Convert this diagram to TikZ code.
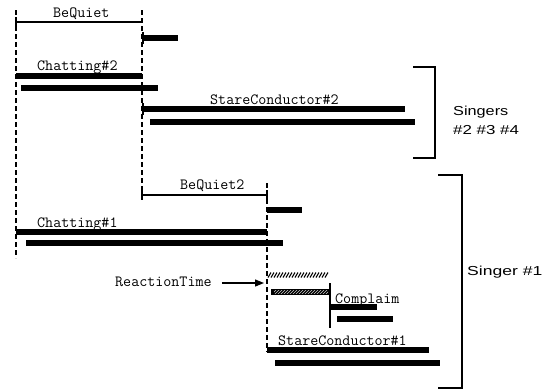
\documentclass[tikz,border=0pt]{standalone}
\usepackage{fontspec}
\usepackage{graphicx}
\newfontfamily\sansf{Liberation Sans}
\usetikzlibrary{patterns,arrows.meta}
\begin{document}
\begin{tikzpicture}[x=1pt,y=-1pt,
  thinbar/.style={line width=2.8pt},
  thickbar/.style={line width=5.5pt},
  guide/.style={line width=1.2pt, dash pattern=on 5pt off 3pt},
  tick/.style={line width=1.4pt},
  lbl/.style={font=\ttfamily\fontsize{15.6}{16}\selectfont, inner sep=0pt, anchor=base west},
  grp/.style={font=\sansf\fontsize{13}{16}\selectfont, inner sep=0pt, anchor=base west},
  brk/.style={line width=2pt},
  hatch/.style={line width=1.1pt},
]
\useasboundingbox (0,0) rectangle (547,389);

% dashed guides
\draw[guide] (16,10) -- (16,258);
\draw[guide] (142,10) -- (142,200);
\draw[guide] (267,183) -- (267,352);

% BeQuiet
\node[lbl] (bq) at (53,17) {BeQuiet};
\draw[thinbar] (16,22) -- (142,22);
\draw[tick] (16,17) -- (16,26);
\draw[thickbar] (142,38) -- (178,38);
\draw[tick] (143,32) -- (143,44);

% Chatting#2
\node[lbl] (c2) at (37,70) {Chatting\#2};
\draw[thickbar] (16,76) -- (142,76);
\draw[thickbar] (21,88) -- (158,88);

% StareConductor#2
\node[lbl] (s2) at (210,104) {StareConductor\#2};
\draw[thickbar] (142,109) -- (405,109);
\draw[tick] (143,103) -- (143,115);
\draw[thickbar] (150,122) -- (415,122);

% bracket singers 2-4
\draw[brk] (413,67) -- (435,67) -- (435,158) -- (413,158);
\node[grp] (g1) at (453,115) {\scalebox{1.25}[1]{Singers}};
\node[grp] (g2) at (453,134) {\scalebox{1.3}[1]{\#2 \#3 \#4}};

% BeQuiet2
\node[lbl] (bq2) at (180,189) {BeQuiet2};
\draw[thinbar] (142,195) -- (267,195);
\draw[tick] (142,190) -- (142,200);
\draw[tick] (267,190) -- (267,200);
\draw[thickbar] (267,210) -- (302,210);

% Chatting#1
\node[lbl] (c1) at (37,227) {Chatting\#1};
\draw[thickbar] (16,232) -- (267,232);
\draw[thickbar] (26,243) -- (283,243);

% ReactionTime
\node[lbl] (rt) at (115,286) {ReactionTime};
\coordinate (rtend) at (264,283);
\draw[line width=1.2pt, -{Triangle[length=9pt,width=7pt]}] ([xshift=10pt]rt.east |- rtend) -- (rtend);
\foreach \x in {268,271,...,327} \draw[hatch] (\x,277.5) -- (\x+3,272.5);
\fill[black] (271,289) rectangle (330,295);
\fill[pattern=north east lines, pattern color=white!80!black] (274,290.5) rectangle (328,293.5);

% Complaim
\draw[line width=1.5pt] (330,283) -- (330,328);
\node[lbl] (cp) at (335,303) {Complaim};
\draw[thickbar] (330,307) -- (377,307);
\draw[thickbar] (337,319) -- (393,319);

% StareConductor#1
\node[lbl] (s1) at (278,345) {StareConductor\#1};
\draw[thickbar] (267,350) -- (429,350);
\draw[thickbar] (275,363) -- (440,363);

% bracket singer 1
\draw[brk] (438,175) -- (462,175) -- (462,388) -- (438,388);
\node[grp] (g3) at (467,275) {\scalebox{1.35}[1]{Singer \#1}};
\end{tikzpicture}
\end{document}
